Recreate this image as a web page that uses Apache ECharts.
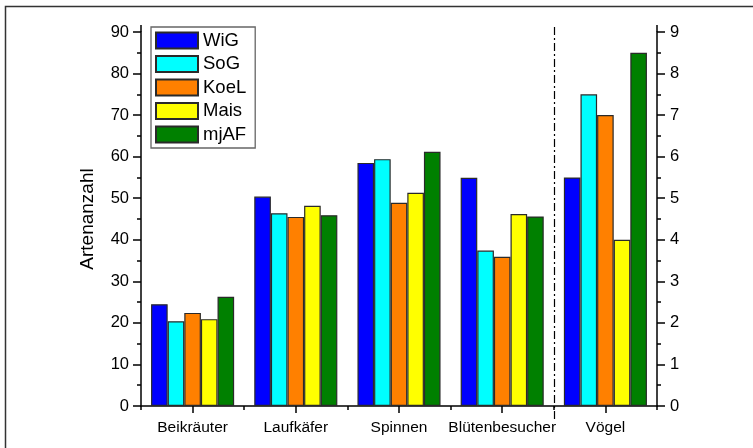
<!DOCTYPE html>
<html>
<head>
<meta charset="utf-8">
<script src="https://cdn.jsdelivr.net/npm/echarts@6/dist/echarts.min.js"></script>
<style>
html,body{margin:0;padding:0;background:#fff}
#main{width:753px;height:448px}
</style>
</head>
<body>
<div id="main"></div>
<script>
var categories = ['Beikräuter', 'Laufkäfer', 'Spinnen', 'Blütenbesucher', 'Vögel'];
var rightCategory = 'Vögel'; // Vögel laufen über die rechte Achse (0-9)
var seriesNames = ['WiG', 'SoG', 'KoeL', 'Mais', 'mjAF'];
var colors = ['#0000ff', '#00ffff', '#ff8000', '#ffff00', '#008000'];

var wig  = [24.5, 50.4, 58.5, 54.9, 5.5];
var sog  = [20.4, 46.4, 59.4, 37.4, 7.5];
var koel = [22.4, 45.5, 48.9, 35.9, 7.0];
var mais = [20.9, 48.2, 51.3, 46.2, 4.0];
var mjaf = [26.3, 45.9, 61.2, 45.6, 8.5];
var values = [wig, sog, koel, mais, mjaf];

var leftMax = 90, leftInterval = 10;
var rightMax = 9, rightInterval = 1;

var W = 753, gridLeft = 141, gridRight = 96;
var font = 'Liberation Sans, Arial, sans-serif';
var myChart = echarts.init(document.getElementById('main'));

var series = [];
seriesNames.forEach(function (name, k) {
    var style = { color: colors[k], borderColor: '#2a2a2a', borderWidth: 1.2 };
    series.push({
        name: name, type: 'bar', xAxisIndex: 0, yAxisIndex: 0,
        barGap: '0%', barCategoryGap: '19.5%', itemStyle: style,
        data: values[k].map(function (v, i) { return categories[i] === rightCategory ? '-' : v; })
    });
    series.push({
        name: name, type: 'bar', xAxisIndex: 1, yAxisIndex: 1,
        barGap: '0%', barCategoryGap: '19.5%', itemStyle: style,
        data: values[k].map(function (v, i) { return categories[i] === rightCategory ? v : '-'; })
    });
});

var axisLine = { show: true, lineStyle: { color: '#000', width: 1.5 } };

myChart.setOption({
    animation: false,
    backgroundColor: '#fff',
    grid: { left: gridLeft, right: gridRight, top: 32, bottom: 42 },
    legend: {
        data: seriesNames,
        orient: 'vertical',
        left: 151, top: 27,
        icon: 'rect',
        itemWidth: 42, itemHeight: 16, itemGap: 4.5,
        padding: [4, 9, 4, 4],
        backgroundColor: '#fff',
        borderColor: '#666', borderWidth: 1.3,
        selectedMode: false,
        textStyle: { fontSize: 18.5, fontFamily: font, color: '#000' }
    },
    xAxis: [{
        type: 'category', data: categories,
        axisLine: axisLine,
        axisTick: { show: true, length: 4, lineStyle: { color: '#000', width: 1.5 } },
        axisLabel: { interval: 0, hideOverlap: false, fontSize: 15.5, fontFamily: font, color: '#000', margin: 14 },
        splitLine: { show: false }
    }, {
        type: 'category', data: categories, position: 'bottom',
        axisLine: { show: false },
        axisTick: { show: true, alignWithLabel: true, interval: 0, length: 7, lineStyle: { color: '#000', width: 1.5 } },
        axisLabel: { show: false }
    }],
    yAxis: [{
        type: 'value', min: 0, max: leftMax, interval: leftInterval, position: 'left',
        name: 'Artenanzahl', nameLocation: 'middle', nameGap: 44,
        nameTextStyle: { fontSize: 19, fontFamily: font, color: '#000' },
        axisLine: axisLine,
        axisTick: { show: true, length: 8, lineStyle: { color: '#000', width: 1.5 } },
        minorTick: { show: true, splitNumber: 2, length: 4, lineStyle: { color: '#000', width: 1.5 } },
        axisLabel: { fontSize: 16.5, fontFamily: font, color: '#000', margin: 12 },
        splitLine: { show: false }
    }, {
        type: 'value', min: 0, max: rightMax, interval: rightInterval, position: 'right',
        axisLine: axisLine,
        axisTick: { show: true, length: 8, lineStyle: { color: '#000', width: 1.5 } },
        minorTick: { show: true, splitNumber: 2, length: 4, lineStyle: { color: '#000', width: 1.5 } },
        axisLabel: { fontSize: 16.5, fontFamily: font, color: '#000', margin: 13 },
        splitLine: { show: false }
    }],
    series: series
});

// Trennlinie vor Vögel, Achsenüberstand oben + Rahmen
var xa = myChart.convertToPixel({ xAxisIndex: 0 }, 'Blütenbesucher');
var xb = myChart.convertToPixel({ xAxisIndex: 0 }, rightCategory);
var xs = Math.round((xa + xb) / 2) + 0.5;
var y0 = myChart.convertToPixel({ yAxisIndex: 0 }, 0);
var yTop = myChart.convertToPixel({ yAxisIndex: 0 }, leftMax);
var axStyle = { stroke: '#000', lineWidth: 1.5 };
myChart.setOption({
    graphic: [{
        type: 'line', z: 10,
        shape: { x1: xs, y1: yTop - 5, x2: xs, y2: y0 + 15 },
        style: { stroke: '#000', lineWidth: 1.2, lineDash: [8, 3, 2, 3] }
    }, {
        type: 'line', z: 10,
        shape: { x1: gridLeft, y1: yTop - 7, x2: gridLeft, y2: yTop },
        style: axStyle
    }, {
        type: 'line', z: 10,
        shape: { x1: W - gridRight, y1: yTop - 7, x2: W - gridRight, y2: yTop },
        style: axStyle
    }, {
        type: 'polyline', z: 10,
        shape: { points: [[5.5, 448], [5.5, 6.5], [753, 6.5]] },
        style: { stroke: '#333', lineWidth: 1.5, fill: null }
    }]
});
</script>
</body>
</html>
